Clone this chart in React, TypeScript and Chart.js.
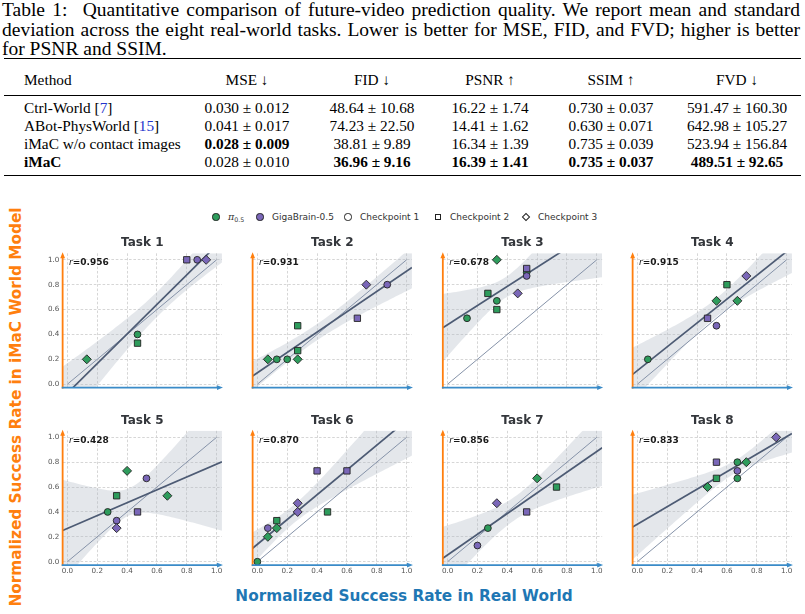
import React, { useEffect, useRef } from 'react';
import { Chart, registerables } from 'chart.js';

Chart.register(...registerables);

// ---------------- Data ----------------
type Model = 'pi' | 'giga';
type Ckpt = 1 | 2 | 3;
type Pt = [Model, Ckpt, number, number]; // model, checkpoint, real-world rate, world-model rate

const TASK_NAMES = ['Task 1', 'Task 2', 'Task 3', 'Task 4', 'Task 5', 'Task 6', 'Task 7', 'Task 8'];
const R_LABELS = ['0.956', '0.931', '0.678', '0.915', '0.428', '0.870', '0.856', '0.833'];

const TASK1: Pt[] = [
  ['pi', 3, 0.13, 0.2], ['pi', 1, 0.47, 0.4], ['pi', 2, 0.47, 0.33],
  ['giga', 2, 0.8, 1.0], ['giga', 1, 0.87, 1.0], ['giga', 3, 0.93, 1.0],
];
const TASK2: Pt[] = [
  ['pi', 3, 0.07, 0.2], ['pi', 1, 0.13, 0.2], ['pi', 1, 0.2, 0.2], ['pi', 3, 0.27, 0.2],
  ['pi', 2, 0.27, 0.27], ['pi', 2, 0.27, 0.47],
  ['giga', 2, 0.67, 0.53], ['giga', 3, 0.73, 0.8], ['giga', 1, 0.87, 0.8],
];
const TASK3: Pt[] = [
  ['pi', 3, 0.33, 1.0], ['pi', 1, 0.53, 0.9], ['giga', 2, 0.53, 0.93], ['giga', 1, 0.53, 0.87],
  ['pi', 2, 0.27, 0.73], ['pi', 1, 0.33, 0.67], ['pi', 2, 0.33, 0.6],
  ['giga', 3, 0.47, 0.73], ['pi', 1, 0.13, 0.53],
];
const TASK4: Pt[] = [
  ['pi', 1, 0.07, 0.2], ['giga', 2, 0.47, 0.53], ['giga', 1, 0.53, 0.47], ['pi', 3, 0.53, 0.67],
  ['pi', 2, 0.6, 0.8], ['pi', 3, 0.67, 0.67], ['giga', 3, 0.73, 0.87],
];
const TASK5: Pt[] = [
  ['pi', 1, 0.27, 0.4], ['pi', 2, 0.33, 0.53], ['giga', 1, 0.33, 0.33], ['giga', 3, 0.33, 0.27],
  ['pi', 3, 0.4, 0.73], ['giga', 2, 0.47, 0.4], ['giga', 1, 0.53, 0.67], ['pi', 3, 0.67, 0.53],
];
const TASK6: Pt[] = [
  ['pi', 1, 0.0, 0.0], ['giga', 1, 0.07, 0.27], ['pi', 3, 0.07, 0.2], ['pi', 2, 0.13, 0.33],
  ['pi', 3, 0.13, 0.27], ['giga', 3, 0.27, 0.47], ['giga', 3, 0.27, 0.4],
  ['giga', 2, 0.4, 0.73], ['giga', 2, 0.6, 0.73], ['pi', 2, 0.47, 0.4],
];
const TASK7: Pt[] = [
  ['giga', 1, 0.2, 0.13], ['pi', 1, 0.27, 0.27], ['giga', 3, 0.33, 0.47],
  ['giga', 2, 0.53, 0.4], ['pi', 3, 0.6, 0.67], ['pi', 2, 0.73, 0.6],
];
const TASK8: Pt[] = [
  ['pi', 3, 0.47, 0.6], ['giga', 2, 0.53, 0.8], ['pi', 2, 0.53, 0.67], ['pi', 1, 0.67, 0.8],
  ['giga', 1, 0.67, 0.73], ['pi', 1, 0.67, 0.67], ['pi', 3, 0.73, 0.8], ['giga', 3, 0.93, 1.0],
];
const TASKS = [TASK1, TASK2, TASK3, TASK4, TASK5, TASK6, TASK7, TASK8];

const AXIS_TICKS = [0, 0.2, 0.4, 0.6, 0.8, 1.0];
const AXIS_TICK_LABELS = ['0.0', '0.2', '0.4', '0.6', '0.8', '1.0'];

const LEGEND_LABELS = ['GigaBrain-0.5', 'Checkpoint 1', 'Checkpoint 2', 'Checkpoint 3'];
const X_TITLE = 'Normalized Success Rate in Real World';
const Y_TITLE = 'Normalized Success Rate in iMaC World Model';

const CAPTION_LINES = [
  'Quantitative comparison of future-video prediction quality. We report mean and standard',
  'deviation across the eight real-world tasks. Lower is better for MSE, FID, and FVD; higher is better',
  'for PSNR and SSIM.',
];
const METRIC_HEADERS = ['MSE ↓', 'FID ↓', 'PSNR ↑', 'SSIM ↑', 'FVD ↓'];
const METHOD_NAMES = ['Ctrl-World', 'ABot-PhysWorld', 'iMaC w/o contact images', 'iMaC'];
const METHOD_REFS = ['7', '15', '', ''];
const METHOD_BOLD = [false, false, false, true];
const MSE_CELLS = ['0.030 ± 0.012', '0.041 ± 0.017', '0.028 ± 0.009', '0.028 ± 0.010'];
const FID_CELLS = ['48.64 ± 10.68', '74.23 ± 22.50', '38.81 ± 9.89', '36.96 ± 9.16'];
const PSNR_CELLS = ['16.22 ± 1.74', '14.41 ± 1.62', '16.34 ± 1.39', '16.39 ± 1.41'];
const SSIM_CELLS = ['0.730 ± 0.037', '0.630 ± 0.071', '0.735 ± 0.039', '0.735 ± 0.037'];
const FVD_CELLS = ['591.47 ± 160.30', '642.98 ± 105.27', '523.94 ± 156.84', '489.51 ± 92.65'];
const MSE_BOLD = [false, false, true, false];
const FID_BOLD = [false, false, false, true];
const PSNR_BOLD = [false, false, false, true];
const SSIM_BOLD = [false, false, false, true];
const FVD_BOLD = [false, false, false, true];

// ---------------- Style / layout ----------------
const GREEN = '#2e9c5c';
const PURPLE = '#7a67b8';
const EDGE = '#222222';
const REG_COLOR = '#4d5b74';
const IDENT_COLOR = '#8592a8';
const BAND_COLOR = 'rgba(170,180,194,0.32)';
const ORANGE = '#ff7f0e';
const BLUE_TEXT = '#1f77b4';
const BLUE_AXIS = '#3a8bc8';

const X_MIN = -0.032, X_MAX = 1.036, Y_MIN = -0.027, Y_MAX = 1.052;
const X_UNIT = 149.2, Y_UNIT = 124.4;
const COL_X0 = [67.4, 257.4, 447.6, 637.4];
const ROW_Y0 = [384.2, 561.7];

const POINT_STYLE: Record<number, string> = { 1: 'circle', 2: 'rect', 3: 'rectRot' };
const POINT_RADIUS: Record<number, number> = { 1: 3.4, 2: 4.5, 3: 4.5 };
const MODEL_COLOR: Record<string, string> = { pi: GREEN, giga: PURPLE };

function Panel({ idx }: { idx: number }) {
  const ref = useRef<HTMLCanvasElement>(null);
  const col = idx % 4;
  const row = Math.floor(idx / 4);
  const areaLeft = COL_X0[col] + X_MIN * X_UNIT;
  const areaW = (X_MAX - X_MIN) * X_UNIT;
  const areaTop = ROW_Y0[row] - Y_MAX * Y_UNIT;
  const areaH = (Y_MAX - Y_MIN) * Y_UNIT;
  const canvasLeft = Math.floor(areaLeft - 36);
  const canvasTop = Math.floor(areaTop - 28);
  const yAxisW = areaLeft - canvasLeft;
  const padTop = areaTop - canvasTop;
  const width = Math.ceil(yAxisW + areaW + 6);
  const height = Math.ceil(padTop + areaH + 18);
  const padRight = width - yAxisW - areaW;
  const xAxisH = height - padTop - areaH;
  const showY = col === 0;
  const showX = row === 1;

  useEffect(() => {
    const canvas = ref.current;
    if (!canvas) return;
    const pts = TASKS[idx];
    const xs = pts.map((p) => p[2]);
    const ys = pts.map((p) => p[3]);
    const n = xs.length;
    const mx = xs.reduce((a, b) => a + b, 0) / n;
    const my = ys.reduce((a, b) => a + b, 0) / n;
    let sxx = 0, sxy = 0;
    for (let i = 0; i < n; i++) {
      sxx += (xs[i] - mx) ** 2;
      sxy += (xs[i] - mx) * (ys[i] - my);
    }
    const slope = sxy / sxx;
    const icpt = my - slope * mx;
    let sse = 0;
    for (let i = 0; i < n; i++) sse += (ys[i] - (icpt + slope * xs[i])) ** 2;
    const se = Math.sqrt(sse / (n - 2));
    // regression fit and its confidence band, derived from the points above
    const lower: { x: number; y: number }[] = [];
    const upper: { x: number; y: number }[] = [];
    const NS = 60;
    for (let k = 0; k <= NS; k++) {
      const x = X_MIN + ((X_MAX - X_MIN) * k) / NS;
      const yh = icpt + slope * x;
      const h = 1.96 * se * Math.sqrt(1 / n + (x - mx) ** 2 / sxx);
      lower.push({ x, y: yh - h });
      upper.push({ x, y: yh + h });
    }

    const title = TASK_NAMES[idx];
    const rLabel = R_LABELS[idx];
    const deco = {
      id: 'deco',
      afterDraw(chart: any) {
        const { ctx, chartArea: a } = chart;
        ctx.save();
        ctx.lineWidth = 1.8;
        ctx.strokeStyle = ORANGE;
        ctx.fillStyle = ORANGE;
        ctx.beginPath();
        ctx.moveTo(a.left, a.bottom + 1);
        ctx.lineTo(a.left, a.top + 4);
        ctx.stroke();
        ctx.beginPath();
        ctx.moveTo(a.left, a.top - 1);
        ctx.lineTo(a.left - 2.4, a.top + 5);
        ctx.lineTo(a.left + 2.4, a.top + 5);
        ctx.closePath();
        ctx.fill();
        ctx.strokeStyle = BLUE_AXIS;
        ctx.fillStyle = BLUE_AXIS;
        ctx.beginPath();
        ctx.moveTo(a.left - 0.9, a.bottom);
        ctx.lineTo(a.right - 4, a.bottom);
        ctx.stroke();
        ctx.beginPath();
        ctx.moveTo(a.right + 1, a.bottom);
        ctx.lineTo(a.right - 5, a.bottom - 2.4);
        ctx.lineTo(a.right - 5, a.bottom + 2.4);
        ctx.closePath();
        ctx.fill();

        ctx.fillStyle = '#33363b';
        ctx.font = 'bold 12px "DejaVu Sans"';
        ctx.textAlign = 'center';
        ctx.textBaseline = 'middle';
        ctx.fillText(title, (a.left + a.right) / 2, a.top - 10);

        ctx.fillStyle = '#1a1a1a';
        ctx.textAlign = 'left';
        ctx.font = 'italic 9px "DejaVu Sans"';
        const rx = a.left + 6.4;
        const ry = a.top + 9.4;
        ctx.fillText('r', rx, ry);
        const w = ctx.measureText('r').width;
        ctx.font = 'bold 9px "DejaVu Sans"';
        ctx.fillText('=' + rLabel, rx + w, ry);
        ctx.restore();
      },
    };

    const tickFont = { family: '"DejaVu Sans"', size: 7.2 };
    const chart = new Chart(canvas, {
      type: 'scatter',
      data: {
        datasets: [
          {
            type: 'scatter',
            data: pts.map((p) => ({ x: p[2], y: p[3] })),
            pointStyle: pts.map((p) => POINT_STYLE[p[1]]) as any,
            pointRadius: pts.map((p) => POINT_RADIUS[p[1]]),
            pointBackgroundColor: pts.map((p) => MODEL_COLOR[p[0]]),
            pointBorderColor: EDGE,
            pointBorderWidth: 0.9,
            clip: false as any,
            order: 0,
          } as any,
          {
            type: 'line',
            data: [
              { x: X_MIN, y: icpt + slope * X_MIN },
              { x: X_MAX, y: icpt + slope * X_MAX },
            ],
            borderColor: REG_COLOR,
            borderWidth: 1.7,
            pointRadius: 0,
            fill: false,
            order: 1,
          },
          {
            type: 'line',
            data: [{ x: 0, y: 0 }, { x: 1, y: 1 }],
            borderColor: IDENT_COLOR,
            borderWidth: 1,
            pointRadius: 0,
            fill: false,
            order: 2,
          },
          {
            type: 'line',
            data: lower,
            borderWidth: 0,
            borderColor: 'rgba(0,0,0,0)',
            pointRadius: 0,
            fill: false,
            order: 3,
          },
          {
            type: 'line',
            data: upper,
            borderWidth: 0,
            borderColor: 'rgba(0,0,0,0)',
            backgroundColor: BAND_COLOR,
            pointRadius: 0,
            fill: '-1',
            order: 3,
          },
        ],
      } as any,
      options: {
        responsive: false,
        devicePixelRatio: 1,
        animation: false,
        events: [],
        layout: { padding: { top: padTop, right: padRight, left: 0, bottom: 0 } },
        plugins: {
          legend: { display: false },
          tooltip: { enabled: false },
          title: { display: false },
          filler: { drawTime: 'beforeDatasetsDraw' },
        } as any,
        scales: {
          x: {
            type: 'linear',
            min: X_MIN,
            max: X_MAX,
            afterBuildTicks: (s: any) => {
              s.ticks = AXIS_TICKS.map((v) => ({ value: v }));
            },
            afterFit: (s: any) => {
              s.height = xAxisH;
            },
            ticks: {
              display: showX,
              callback: (_v: any, i: number) => AXIS_TICK_LABELS[i],
              font: tickFont,
              color: '#555555',
              padding: 2,
              maxRotation: 0,
              autoSkip: false,
            },
            grid: { color: '#cccccc', lineWidth: 0.8, drawTicks: false },
            border: { display: false, dash: [2.6, 1.8] },
          },
          y: {
            type: 'linear',
            min: Y_MIN,
            max: Y_MAX,
            afterBuildTicks: (s: any) => {
              s.ticks = AXIS_TICKS.map((v) => ({ value: v }));
            },
            afterFit: (s: any) => {
              s.width = yAxisW;
            },
            ticks: {
              display: showY,
              callback: (_v: any, i: number) => AXIS_TICK_LABELS[i],
              font: tickFont,
              color: '#555555',
              padding: 3.3,
              autoSkip: false,
            },
            grid: { color: '#cccccc', lineWidth: 0.8, drawTicks: false },
            border: { display: false, dash: [2.6, 1.8] },
          },
        } as any,
      },
      plugins: [deco],
    });
    return () => chart.destroy();
  }, []);

  return (
    <canvas
      ref={ref}
      width={width}
      height={height}
      style={{ position: 'absolute', left: canvasLeft, top: canvasTop, width, height }}
    />
  );
}

function Marker({ kind, color, cx, cy }: { kind: string; color: string; cx: number; cy: number }) {
  const base: React.CSSProperties = {
    position: 'absolute',
    boxSizing: 'border-box',
    border: '1px solid #222',
    background: color,
  };
  if (kind === 'circle') {
    return <div style={{ ...base, left: cx - 3.6, top: cy - 3.6, width: 7.2, height: 7.2, borderRadius: '50%' }} />;
  }
  if (kind === 'rect') {
    return <div style={{ ...base, left: cx - 3.3, top: cy - 3.3, width: 6.6, height: 6.6 }} />;
  }
  return (
    <div style={{ ...base, left: cx - 3, top: cy - 3, width: 6, height: 6, transform: 'rotate(45deg)' }} />
  );
}

function Legend() {
  const cy = 217;
  const text: React.CSSProperties = {
    position: 'absolute',
    top: cy - 7,
    lineHeight: '14px',
    fontFamily: '"DejaVu Sans"',
    fontSize: 9,
    color: '#333',
    whiteSpace: 'nowrap',
  };
  return (
    <>
      <Marker kind="circle" color={GREEN} cx={216} cy={cy} />
      <div style={{ ...text, left: 228 }}>
        <span style={{ fontStyle: 'italic', fontFamily: '"DejaVu Serif"', fontSize: 9.5 }}>π</span>
        <span style={{ fontSize: 6.3, position: 'relative', top: 2 }}>0.5</span>
      </div>
      <Marker kind="circle" color={PURPLE} cx={260} cy={cy} />
      <div style={{ ...text, left: 272 }}>{LEGEND_LABELS[0]}</div>
      <Marker kind="circle" color="#fff" cx={348} cy={cy} />
      <div style={{ ...text, left: 360 }}>{LEGEND_LABELS[1]}</div>
      <Marker kind="rect" color="#fff" cx={438} cy={cy} />
      <div style={{ ...text, left: 450 }}>{LEGEND_LABELS[2]}</div>
      <Marker kind="diamond" color="#fff" cx={526} cy={cy} />
      <div style={{ ...text, left: 538 }}>{LEGEND_LABELS[3]}</div>
    </>
  );
}

function Caption() {
  const line: React.CSSProperties = {
    position: 'absolute',
    left: 2,
    width: 798,
    fontFamily: '"Liberation Serif"',
    fontSize: 19.5,
    lineHeight: '19.5px',
    color: '#000',
  };
  return (
    <>
      <div style={{ ...line, top: 0, textAlign: 'justify', textAlignLast: 'justify' } as any}>
        Table 1:<span style={{ display: 'inline-block', width: 8 }} /> {CAPTION_LINES[0]}
      </div>
      <div style={{ ...line, top: 19.5, textAlign: 'justify', textAlignLast: 'justify' } as any}>
        {CAPTION_LINES[1]}
      </div>
      <div style={{ ...line, top: 39 }}>{CAPTION_LINES[2]}</div>
    </>
  );
}

function ResultsTable() {
  const colCenters = [247, 372, 490, 611, 737];
  const headerY = 81;
  const rowYs = [109, 127, 145, 163];
  const cell: React.CSSProperties = {
    position: 'absolute',
    fontFamily: '"Liberation Serif"',
    fontSize: 15.3,
    lineHeight: '18px',
    whiteSpace: 'nowrap',
    color: '#000',
  };
  const columns = [MSE_CELLS, FID_CELLS, PSNR_CELLS, SSIM_CELLS, FVD_CELLS];
  const bolds = [MSE_BOLD, FID_BOLD, PSNR_BOLD, SSIM_BOLD, FVD_BOLD];
  const rule = (top: number, h: number) => (
    <div style={{ position: 'absolute', left: 4, width: 797, top, height: h, background: '#000' }} />
  );
  return (
    <>
      {rule(57.5, 1.7)}
      {rule(94.5, 0.9)}
      {rule(174.5, 1.7)}
      <div style={{ ...cell, left: 24, top: headerY - 10 }}>Method</div>
      {METRIC_HEADERS.map((h, j) => (
        <div key={h} style={{ ...cell, left: colCenters[j], top: headerY - 10, transform: 'translateX(-50%)' }}>
          {h}
        </div>
      ))}
      {METHOD_NAMES.map((m, i) => (
        <div key={m} style={{ ...cell, left: 24, top: rowYs[i] - 10, fontWeight: METHOD_BOLD[i] ? 'bold' : 'normal' }}>
          {m}
          {METHOD_REFS[i] ? (
            <>
              {' '}[<span style={{ color: '#2233cc' }}>{METHOD_REFS[i]}</span>]
            </>
          ) : null}
        </div>
      ))}
      {columns.map((colCells, j) =>
        colCells.map((v, i) => (
          <div
            key={j + '-' + i}
            style={{
              ...cell,
              left: colCenters[j],
              top: rowYs[i] - 10,
              transform: 'translateX(-50%)',
              fontWeight: bolds[j][i] ? 'bold' : 'normal',
            }}
          >
            {v}
          </div>
        ))
      )}
    </>
  );
}

export default function App() {
  return (
    <div
      style={{
        position: 'absolute',
        left: 0,
        top: 0,
        width: 805,
        height: 614,
        background: '#fff',
        overflow: 'hidden',
      }}
    >
      <Caption />
      <ResultsTable />
      <Legend />
      <div
        style={{
          position: 'absolute',
          left: 15.5,
          top: 407,
          transform: 'translate(-50%, -50%) rotate(-90deg)',
          whiteSpace: 'nowrap',
          fontFamily: '"DejaVu Sans"',
          fontWeight: 'bold',
          fontSize: 15.3,
          color: ORANGE,
        }}
      >
        {Y_TITLE}
      </div>
      <div
        style={{
          position: 'absolute',
          left: 404,
          top: 595.5,
          transform: 'translate(-50%, -50%)',
          whiteSpace: 'nowrap',
          fontFamily: '"DejaVu Sans"',
          fontWeight: 'bold',
          fontSize: 15.3,
          color: BLUE_TEXT,
        }}
      >
        {X_TITLE}
      </div>
      {TASKS.map((_, i) => (
        <Panel key={i} idx={i} />
      ))}
    </div>
  );
}
